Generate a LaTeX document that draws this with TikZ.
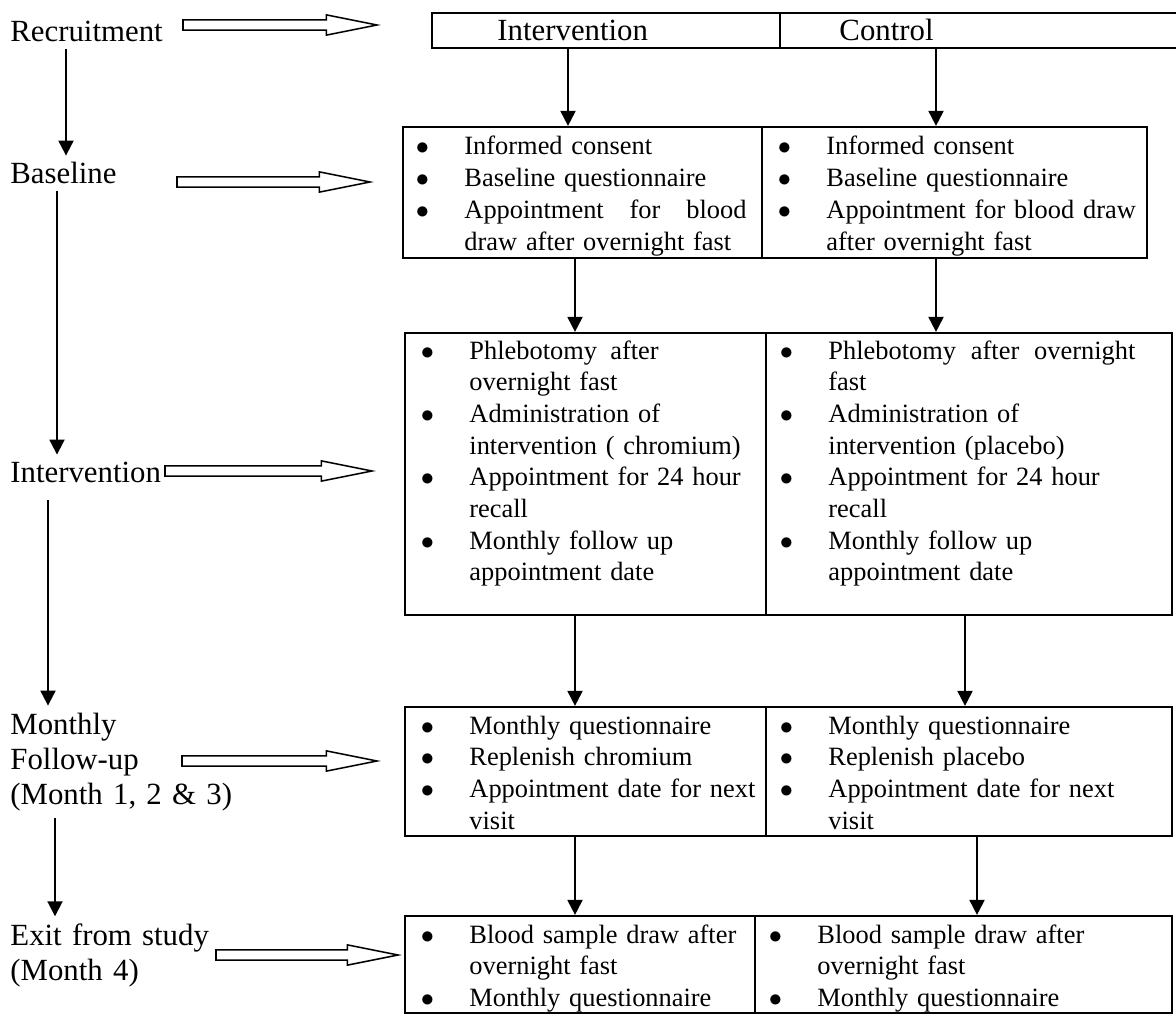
\documentclass[tikz,border=0pt]{standalone}
\usepackage{fontspec}
\setmainfont{Liberation Serif}
\usetikzlibrary{arrows.meta,calc,fit}

\newcommand{\pxu}{0.4545pt}
\newcommand{\bul}{\leavevmode\llap{$\bullet$\hspace{16.1pt}}}
\newcommand{\spread}[2]{\hbox to #1{\spaceskip=.25em plus 1fil\relax #2}}

\tikzset{
  cell/.style={draw, line width=1pt, inner sep=0pt},
  stage/.style={font=\fontsize{14}{16.1}\selectfont, inner xsep=0pt, inner ysep=3pt, anchor=base west, align=left, text width=110pt},
  head/.style={font=\fontsize{14}{16.1}\selectfont, inner sep=0pt, anchor=base west},
  items/.style={font=\fontsize{12}{14.4}\selectfont, inner sep=0pt, anchor=base west, align=left, text width=150pt},
  down/.style={-{Triangle[length=6.8pt,width=6.8pt]}, line width=0.9pt},
  fat/.style={line width=0.7pt, to path={let \p1=(\tikztostart), \p2=(\tikztotarget) in
    (\x1,\y1+2.3pt) -- (\x2-23pt,\y1+2.3pt) -- (\x2-23pt,\y1+4.6pt) -- (\x2,\y1)
    -- (\x2-23pt,\y1-4.6pt) -- (\x2-23pt,\y1-2.3pt) -- (\x1,\y1-2.3pt) -- cycle}}
}

\begin{document}
\begin{tikzpicture}[x=\pxu, y=-\pxu]
  \useasboundingbox (0,0) rectangle (1176,1015);

  % stages on the left
  \node[stage] (lRec)  at (10,42)  {Recruitment};
  \node[stage] (lBase) at (10,184) {Baseline};
  \node[stage] (lInt)  at (10,482) {Intervention};
  \node[stage] (lMon)  at (10,734) {Monthly\\Follow-up\\(Month 1, 2 \& 3)};
  \node[stage] (lExit) at (10,945) {Exit from study\\(Month 4)};

  \draw[down] (lRec.south -| 66,0) -- (lBase.north -| 66,0);
  \draw[down] (lBase.south -| 57,0) -- (lInt.north -| 57,0);
  \draw[down, shorten <=5pt] (lInt.south -| 48,0) -- (lMon.north -| 48,0);
  \draw[down] (lMon.south -| 55,0) -- (lExit.north -| 55,0);

  % group header
  \node[cell, fit={(432,13) (780,48)}] (hL) {};
  \node[cell, fit={(780,13) (1180,48)}] (hR) {};
  \node[head] (hInt) at (497,41) {Intervention};
  \node[head] (hCon) at (839,41) {Control};

  % boxes, one cell per arm
  \node[cell, fit={(403,127) (762,258)}] (bL) {};
  \node[cell, fit={(762,127) (1147,258)}] (bR) {};
  \node[cell, fit={(405,333) (766,615)}] (iL) {};
  \node[cell, fit={(766,333) (1172,615)}] (iR) {};
  \node[cell, fit={(405,707) (766,836)}] (mL) {};
  \node[cell, fit={(766,707) (1172,836)}] (mR) {};
  \node[cell, fit={(405,916) (755,1013)}] (eL) {};
  \node[cell, fit={(755,916) (1172,1013)}] (eR) {};

  \node[items] (tbL) at (464,155) {\bul Informed consent\\ \bul Baseline questionnaire\\
    \bul \spread{128.2pt}{Appointment for blood}\\ draw after overnight fast};
  \node[items] (tbR) at (826,155) {\bul Informed consent\\ \bul Baseline questionnaire\\
    \bul Appointment for blood draw\\ after overnight fast};

  \node[items] (tiL) at (469,359) {\bul \spread{86pt}{Phlebotomy after}\\ overnight fast\\
    \bul Administration of\\ intervention ( chromium)\\ \bul Appointment for 24 hour\\ recall\\
    \bul Monthly follow up\\ appointment date};
  \node[items] (tiR) at (828,359) {\bul \spread{139.5pt}{Phlebotomy after overnight}\\ fast\\
    \bul Administration of\\ intervention (placebo)\\ \bul Appointment for 24 hour\\ recall\\
    \bul Monthly follow up\\ appointment date};

  \node[items] (tmL) at (469,734) {\bul Monthly questionnaire\\ \bul Replenish chromium\\
    \bul Appointment date for next\\ visit};
  \node[items] (tmR) at (828,734) {\bul Monthly questionnaire\\ \bul Replenish placebo\\
    \bul Appointment date for next\\ visit};

  \node[items] (teL) at (469,943) {\bul Blood sample draw after\\ overnight fast\\
    \bul Monthly questionnaire};
  \node[items] (teR) at (817,943) {\bul Blood sample draw after\\ overnight fast\\
    \bul Monthly questionnaire};

  % arm arrows
  \draw[down] (hL.south -| 568,0) -- (bL.north -| 568,0);
  \draw[down] (hR.south -| 936,0) -- (bR.north -| 936,0);
  \draw[down] (bL.south -| 575,0) -- (iL.north -| 575,0);
  \draw[down] (bR.south -| 936,0) -- (iR.north -| 936,0);
  \draw[down] (iL.south -| 575,0) -- (mL.north -| 575,0);
  \draw[down] (iR.south -| 965,0) -- (mR.north -| 965,0);
  \draw[down] (mL.south -| 575,0) -- (eL.north -| 575,0);
  \draw[down] (mR.south -| 977,0) -- (eR.north -| 977,0);

  % hollow arrows from stage to boxes
  \coordinate (fRa) at (183,25);  \coordinate (fRb) at (377,25);
  \coordinate (fBa) at (177,182); \coordinate (fBb) at (370,182);
  \coordinate (fIa) at (165,471); \coordinate (fIb) at (372,471);
  \coordinate (fMa) at (182,761); \coordinate (fMb) at (377,761);
  \coordinate (fEa) at (216,955); \coordinate (fEb) at (398,955);
  \draw[fat] (fRa) to (fRb);
  \draw[fat] (fBa) to (fBb);
  \draw[fat] (fIa) to (fIb);
  \draw[fat] (fMa) to (fMb);
  \draw[fat] (fEa) to (fEb);
\end{tikzpicture}
\end{document}
